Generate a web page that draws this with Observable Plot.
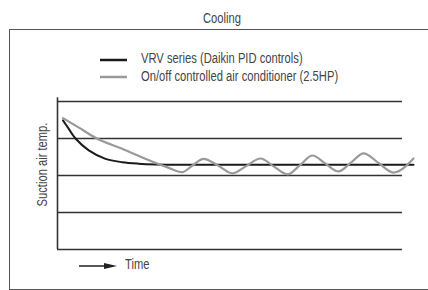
<!DOCTYPE html>
<html>
<head>
<meta charset="utf-8">
<script src="https://cdn.jsdelivr.net/npm/d3@7"></script>
<script src="https://cdn.jsdelivr.net/npm/@observablehq/plot@0.6"></script>
<style>
  html, body { margin: 0; padding: 0; background: #fff; overflow: hidden; }
  body { width: 428px; height: 290px; position: relative;
         font-family: "Liberation Sans", Arial, sans-serif;
         color: #444; font-size: 14px; }
  #chart { position: absolute; left: 0; top: 0; }
  #box { position: absolute; left: 9px; top: 29px; width: 440px; height: 261px;
         box-sizing: border-box; border: 1px solid #555; pointer-events: none; }
  .txt { position: absolute; line-height: 16px; white-space: nowrap; display: inline-block;
         transform: scaleX(0.8); transform-origin: left center; }
  #title { left: 9px; width: 426px; top: 10px; text-align: center; transform-origin: center center; }
  .sw { position: absolute; display: block; }
</style>
</head>
<body>
<div id="chart"></div>
<div id="box"></div>
<div id="title" class="txt"></div>
<div id="legend"></div>
<div id="cap"></div>
<script>
// ---- data ----
const title = "Cooling";
const seriesNames = ["VRV series (Daikin PID controls)", "On/off controlled air conditioner (2.5HP)"];
const seriesColors = ["#1a1a1a", "#999999"];
const yLabel = "Suction air temp.";
const xLabel = "Time";
const gridLevels = [0, 1, 2, 3, 4];

const vrvTime = [1.59, 3.28, 5.22, 9.07, 13.91, 18.75, 23.48, 28.41, 35.65, 47.25, 58.84, 70.43, 82.03, 93.62, 103.19];
const vrvTemp = [3.49, 3.26, 3.00, 2.68, 2.45, 2.36, 2.32, 2.30, 2.29, 2.29, 2.29, 2.29, 2.29, 2.29, 2.29];

const onoffTime = [1.59, 6.09, 11.01, 18.75, 27.54, 31.88, 36.14, 39.13, 42.32, 46.52, 50.72, 54.78, 58.84, 62.75, 66.67, 70.29, 73.91, 77.68, 81.45, 85.07, 88.70, 93.04, 97.39, 103.19];
const onoffTemp = [3.55, 3.30, 3.02, 2.72, 2.37, 2.22, 2.09, 2.27, 2.45, 2.27, 2.06, 2.26, 2.46, 2.24, 2.03, 2.28, 2.54, 2.32, 2.11, 2.35, 2.60, 2.34, 2.08, 2.46];

// ---- tables ----
const vrv = vrvTime.map((t, i) => ({t, v: vrvTemp[i]}));
const onoff = onoffTime.map((t, i) => ({t, v: onoffTemp[i]}));
const xDomain = [0, 100];
const yTop = 4.1;
const condense = 0.8;

const plot = Plot.plot({
  width: 428,
  height: 290,
  marginLeft: 57,
  marginRight: 26,
  marginTop: 101,
  marginBottom: 41,
  x: {domain: xDomain, axis: null},
  y: {domain: [0, 4], axis: null},
  style: {background: "transparent", fontFamily: "'Liberation Sans', Arial, sans-serif", fontSize: "14px", color: "#444"},
  marks: [
    Plot.ruleY(gridLevels, {x1: xDomain[0], x2: xDomain[1], stroke: "#333", strokeWidth: 1.6}),
    Plot.ruleX([xDomain[0]], {y1: 0, y2: yTop, stroke: "#333", strokeWidth: 1.6}),
    Plot.line(vrv, {x: "t", y: "v", stroke: seriesColors[0], strokeWidth: 2, curve: "catmull-rom"}),
    Plot.line(onoff, {x: "t", y: "v", stroke: seriesColors[1], strokeWidth: 2.2, curve: "monotone-x"}),
    Plot.text([yLabel], {frameAnchor: "left", textAnchor: "middle", rotate: -90, dx: -15, dy: -11, fill: "#444", fontSize: 14})
  ]
});
// condense the rotated axis label along its own direction
plot.querySelectorAll("text").forEach(t => {
  const tr = t.getAttribute("transform");
  if (tr) t.setAttribute("transform", tr + ` scale(${condense},1)`);
});
document.getElementById("chart").append(plot);

document.getElementById("title").textContent = title;

const legend = document.getElementById("legend");
const swatchY = [59.5, 77];
const textTop = [50, 67.5];
seriesNames.forEach((name, i) => {
  const sw = document.createElementNS("http://www.w3.org/2000/svg", "svg");
  sw.setAttribute("class", "sw");
  sw.setAttribute("width", 27); sw.setAttribute("height", 6);
  sw.style.left = "100px"; sw.style.top = (swatchY[i] - 3) + "px";
  sw.innerHTML = `<line x1="0" x2="27" y1="3" y2="3" stroke="${seriesColors[i]}" stroke-width="2.5"/>`;
  legend.append(sw);
  const tx = document.createElement("div");
  tx.className = "txt";
  tx.style.left = "141px"; tx.style.top = textTop[i] + "px";
  tx.textContent = name;
  legend.append(tx);
});

const cap = document.getElementById("cap");
const arrow = document.createElementNS("http://www.w3.org/2000/svg", "svg");
arrow.setAttribute("class", "sw");
arrow.setAttribute("width", 38); arrow.setAttribute("height", 10);
arrow.style.left = "79px"; arrow.style.top = "260.5px";
arrow.innerHTML = `<line x1="0" x2="28" y1="5" y2="5" stroke="#222" stroke-width="1.5"/><polygon points="25,2 38,5 25,8" fill="#222"/>`;
cap.append(arrow);
const ct = document.createElement("div");
ct.className = "txt";
ct.style.left = "125px"; ct.style.top = "256px";
ct.textContent = xLabel;
cap.append(ct);
</script>
</body>
</html>
